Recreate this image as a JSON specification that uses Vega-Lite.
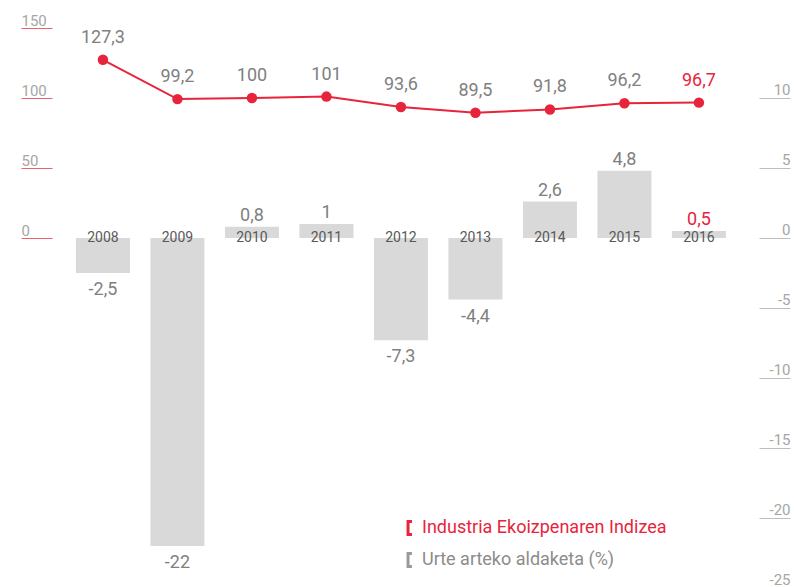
{
  "$schema": "https://vega.github.io/schema/vega-lite/v6.json",
  "width": 707,
  "height": 560,
  "autosize": {"type": "none"},
  "padding": {"left": 52, "top": 28, "right": 35, "bottom": 0},
  "background": "white",
  "config": {
    "view": {"stroke": null},
    "font": "Liberation Sans Narrow, Arial Narrow, Roboto, sans-serif"
  },
  "data": {
    "values": [
      {"year": "2008", "idx": 127.3, "idxLab": "127,3", "chg": -2.5, "chgLab": "-2,5"},
      {"year": "2009", "idx": 99.2, "idxLab": "99,2", "chg": -22, "chgLab": "-22"},
      {"year": "2010", "idx": 100, "idxLab": "100", "chg": 0.8, "chgLab": "0,8"},
      {"year": "2011", "idx": 101, "idxLab": "101", "chg": 1, "chgLab": "1"},
      {"year": "2012", "idx": 93.6, "idxLab": "93,6", "chg": -7.3, "chgLab": "-7,3"},
      {"year": "2013", "idx": 89.5, "idxLab": "89,5", "chg": -4.4, "chgLab": "-4,4"},
      {"year": "2014", "idx": 91.8, "idxLab": "91,8", "chg": 2.6, "chgLab": "2,6"},
      {"year": "2015", "idx": 96.2, "idxLab": "96,2", "chg": 4.8, "chgLab": "4,8"},
      {"year": "2016", "idx": 96.7, "idxLab": "96,7", "chg": 0.5, "chgLab": "0,5"}
    ]
  },
  "encoding": {
    "x": {
      "field": "year",
      "type": "ordinal",
      "scale": {"paddingInner": 0.275, "paddingOuter": 0.3826, "align": 0.42},
      "axis": null
    }
  },
  "layer": [
    {
      "encoding": {
        "y": {
          "field": "chg",
          "type": "quantitative",
          "scale": {"domain": [-25, 15], "nice": false, "zero": false},
          "axis": {
            "orient": "right",
            "title": null,
            "values": [10, 5, 0, -5, -10, -15, -20, -25],
            "domain": false,
            "grid": false,
            "ticks": true,
            "tickSize": 31,
            "tickColor": "#bdbdbd",
            "tickWidth": 1,
            "labelAlign": "right",
            "labelBaseline": "alphabetic",
            "labelPadding": 0,
            "labelOffset": -4,
            "labelColor": "#a6a6a6",
            "labelFontSize": 15,
            "labelFlush": false,
            "labelOverlap": false,
            "labelExpr": "'' + datum.value"
          }
        }
      },
      "layer": [
        {"mark": {"type": "bar", "color": "#d9d9d9"}},
        {
          "transform": [{"filter": "datum.chg >= 0"}],
          "mark": {"type": "text", "fontSize": 18, "baseline": "alphabetic", "dy": -6},
          "encoding": {
            "text": {"field": "chgLab"},
            "color": {"condition": {"test": "datum.year == '2016'", "value": "#e8243c"}, "value": "#808080"}
          }
        },
        {
          "transform": [{"filter": "datum.chg < 0"}],
          "mark": {"type": "text", "fontSize": 18, "baseline": "alphabetic", "dy": 22, "color": "#808080"},
          "encoding": {"text": {"field": "chgLab"}}
        },
        {
          "mark": {"type": "text", "fontSize": 14, "baseline": "alphabetic", "dy": 4, "color": "#595959"},
          "encoding": {"y": {"datum": 0}, "text": {"field": "year"}}
        }
      ]
    },
    {
      "encoding": {
        "y": {
          "field": "idx",
          "type": "quantitative",
          "scale": {"domain": [-250, 150], "nice": false, "zero": false},
          "axis": {
            "orient": "left",
            "title": null,
            "values": [0, 50, 100, 150],
            "domain": false,
            "grid": false,
            "ticks": true,
            "tickSize": 31,
            "tickColor": "#f0606c",
            "tickWidth": 1,
            "labelAlign": "left",
            "labelBaseline": "alphabetic",
            "labelPadding": 0,
            "labelOffset": -3,
            "labelColor": "#a6a6a6",
            "labelFontSize": 15,
            "labelFlush": false,
            "labelOverlap": false
          }
        }
      },
      "layer": [
        {
          "mark": {"type": "line", "strokeWidth": 2},
          "encoding": {
            "color": {
              "datum": "Industria Ekoizpenaren Indizea",
              "type": "nominal",
              "scale": {
                "domain": ["Industria Ekoizpenaren Indizea", "Urte arteko aldaketa (%)"],
                "range": ["#e8243c", "#9a9a9a"]
              },
              "legend": {
                "title": null,
                "orient": "none",
                "legendX": 349,
                "legendY": 491,
                "padding": 0,
                "symbolType": "M0.3,-1H-0.3V1H0.3",
                "symbolSize": 170,
                "symbolStrokeWidth": 3,
                "symbolFillColor": "transparent",
                "labelFontSize": 18,
                "labelOffset": 3,
                "labelLimit": 400,
                "rowPadding": 6,
                "labelColor": {"expr": "datum.label == 'Industria Ekoizpenaren Indizea' ? '#e8243c' : '#8c8c8c'"}
              }
            }
          }
        },
        {"mark": {"type": "point", "filled": true, "size": 110, "color": "#e8243c", "opacity": 1}},
        {
          "mark": {"type": "text", "fontSize": 18, "baseline": "alphabetic", "dy": -17},
          "encoding": {
            "text": {"field": "idxLab"},
            "color": {"condition": {"test": "datum.year == '2016'", "value": "#e8243c"}, "value": "#808080"}
          }
        }
      ]
    }
  ],
  "resolve": {"scale": {"y": "independent"}}
}
